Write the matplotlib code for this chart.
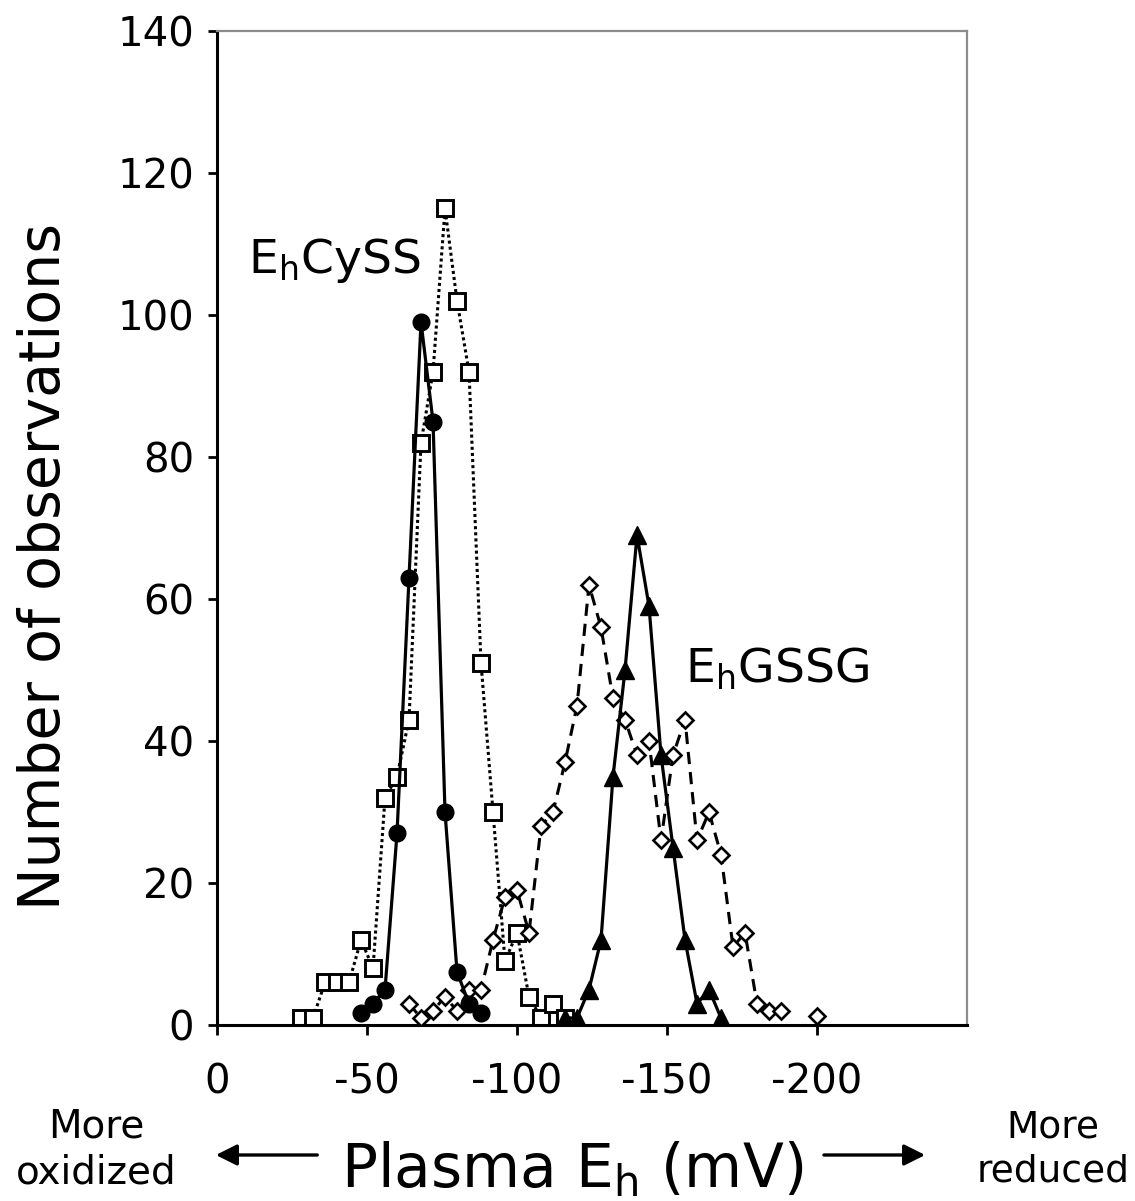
import matplotlib
matplotlib.use("Agg")
import matplotlib.pyplot as plt

plt.rcParams["font.family"] = "DejaVu Sans"
plt.rcParams["mathtext.default"] = "regular"

# plasma Eh (mV) and counts
cyss_sq_x = [-28, -32, -36, -40, -44, -48, -52, -56, -60, -64, -68, -72, -76, -80,
             -84, -88, -92, -96, -100, -104, -108, -112, -116]
cyss_sq_n = [1, 1, 6, 6, 6, 12, 8, 32, 35, 43, 82, 92, 115, 102,
             92, 51, 30, 9, 13, 4, 1, 3, 1]

cyss_dot_x = [-48, -52, -56, -60, -64, -68, -72, -76, -80, -84, -88]
cyss_dot_n = [1.7, 3, 5, 27, 63, 99, 85, 30, 7.5, 3, 1.7]

gssg_dia_x = [-64, -68, -72, -76, -80, -84, -88, -92, -96, -100, -104, -108, -112,
              -116, -120, -124, -128, -132, -136, -140, -144, -148, -152, -156,
              -160, -164, -168, -172, -176, -180, -184, -188]
gssg_dia_n = [3, 1, 2, 4, 2, 5, 5, 12, 18, 19, 13, 28, 30,
              37, 45, 62, 56, 46, 43, 38, 40, 26, 38, 43,
              26, 30, 24, 11, 13, 3, 2, 2]
gssg_dia_extra_x = [-200]
gssg_dia_extra_n = [1.3]

gssg_tri_x = [-116, -120, -124, -128, -132, -136, -140, -144, -148, -152, -156,
              -160, -164, -168]
gssg_tri_n = [1, 1, 5, 12, 35, 50, 69, 59, 38, 25, 12, 3, 5, 1]

x_ticks = [0, -50, -100, -150, -200]
y_ticks = [0, 20, 40, 60, 80, 100, 120, 140]

fig = plt.figure(figsize=(11.35, 12.01), dpi=100)
ax = fig.add_axes([0.1912, 0.1465, 0.6608, 0.8277])

ax.plot(cyss_sq_x, cyss_sq_n, color="k", lw=2.2, dashes=(1, 1),
        marker="s", ms=12, mfc="white", mec="k", mew=2.1, zorder=2)
ax.plot(gssg_dia_x, gssg_dia_n, color="k", lw=2.2, dashes=(4, 2.6),
        marker="D", ms=8.5, mfc="white", mec="k", mew=1.9, zorder=3)
ax.plot(gssg_dia_extra_x, gssg_dia_extra_n, ls="none",
        marker="D", ms=8.5, mfc="white", mec="k", mew=1.9, zorder=3)
ax.plot(cyss_dot_x, cyss_dot_n, color="k", lw=2.3,
        marker="o", ms=12, mfc="k", mec="k", zorder=4)
ax.plot(gssg_tri_x, gssg_tri_n, color="k", lw=2.3,
        marker="^", ms=13, mfc="k", mec="k", zorder=5)

ax.set_xlim(0, -250)
ax.set_ylim(0, 140)
ax.set_xticks(x_ticks)
ax.set_xticklabels([str(v) for v in x_ticks])
ax.set_yticks(y_ticks)

for side in ["left", "bottom"]:
    ax.spines[side].set_color("k")
    ax.spines[side].set_linewidth(2.2)
for side in ["top", "right"]:
    ax.spines[side].set_color("#8c8c8c")
    ax.spines[side].set_linewidth(1.6)

ax.tick_params(axis="y", direction="out", length=6.5, width=2, pad=10, labelsize=29)
ax.tick_params(axis="x", direction="out", length=7, width=2, pad=20, labelsize=29)

ax.text(-10.3, 105.9, "E$_h$CySS", fontsize=34, ha="left", va="baseline")
ax.text(-156, 48.3, "E$_h$GSSG", fontsize=34, ha="left", va="baseline")

fig.text(0.0388, 0.528, "Number of observations", rotation=90,
         fontsize=41, ha="center", va="center")
fig.text(0.504, 0.0117, "Plasma E$_h$ (mV)", fontsize=43, ha="center", va="baseline")

fig.text(0.085, 0.043, "More\noxidized", fontsize=28, ha="center", va="center",
         multialignment="center", linespacing=1.25)
fig.text(0.928, 0.043, "More\nreduced", fontsize=27, ha="center", va="center",
         multialignment="center", linespacing=1.3)

arrow = dict(arrowstyle="-|>", lw=2.4, color="k", mutation_scale=32)
fig.patches.append(matplotlib.patches.FancyArrowPatch(
    (0.282, 0.0383), (0.1877, 0.0383), transform=fig.transFigure, **arrow))
fig.patches.append(matplotlib.patches.FancyArrowPatch(
    (0.7235, 0.0383), (0.8176, 0.0383), transform=fig.transFigure, **arrow))

fig.savefig("out.png", dpi=100)
